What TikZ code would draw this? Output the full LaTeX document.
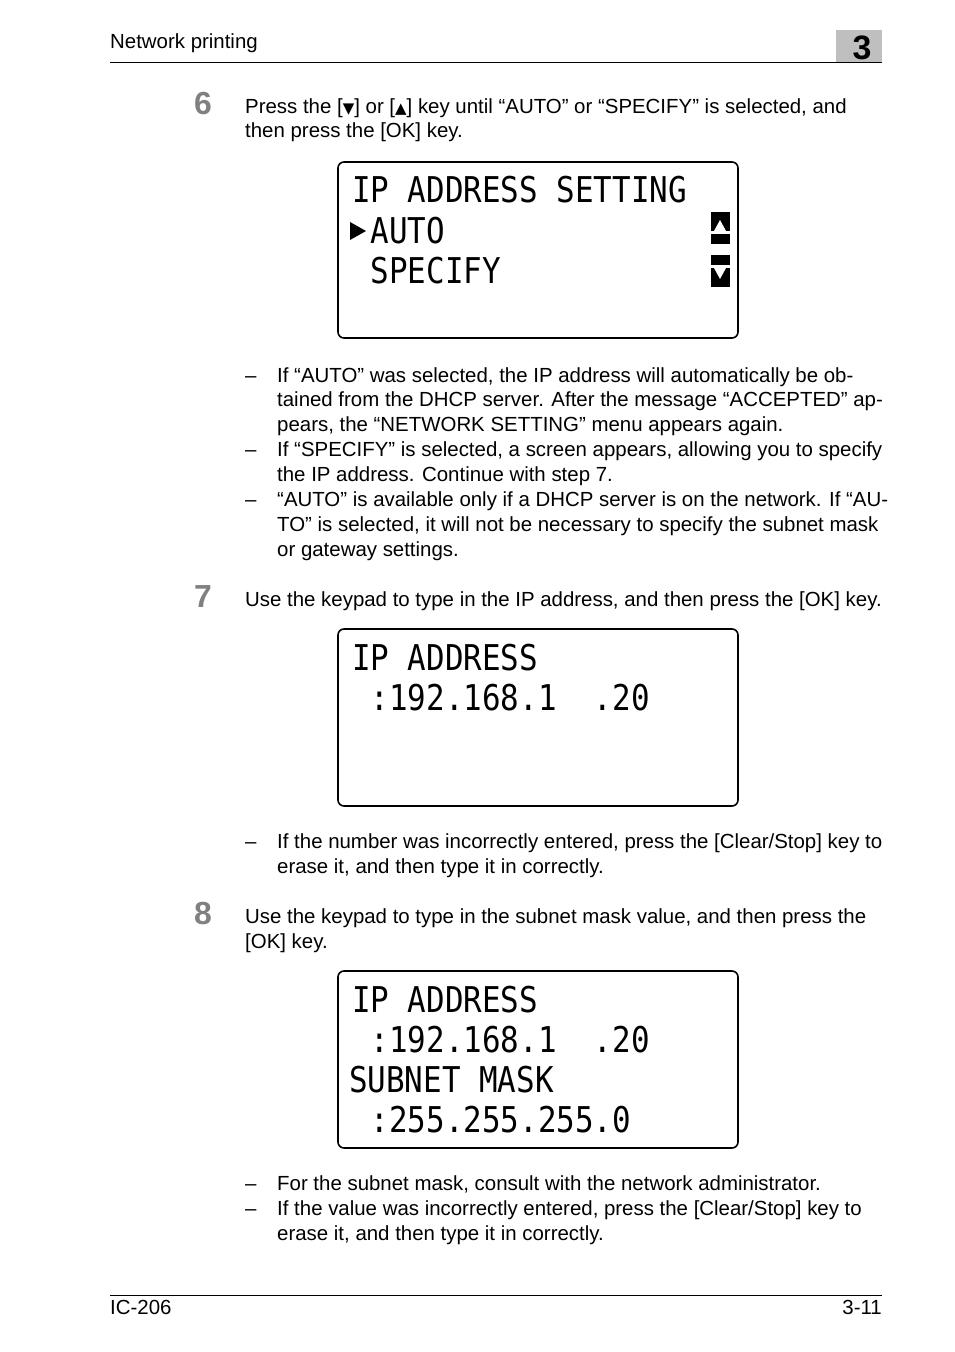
\documentclass[tikz,border=0pt]{standalone}
\usepackage{fontspec}
\setmainfont{Liberation Sans}
\newfontfamily\lcdfont{DejaVu Sans Mono}
\newfontfamily\symfont{DejaVu Sans}
\tikzset{
  body/.style={anchor=west,inner sep=0pt,text height=14bp,text depth=4bp,font=\fontsize{20.5}{24}\selectfont},
  stepnum/.style={anchor=west,inner sep=0pt,text=black!50,font=\fontsize{32}{32}\selectfont\bfseries},
  lcdbox/.style={draw,line width=1.6pt,rounded corners=6pt},
  lcd/.style={anchor=west,inner sep=0pt,yscale=1.15,font=\lcdfont\fontsize{31}{31}\selectfont},
}
\newcommand{\tri}[1]{{\symfont\fontsize{15}{15}\selectfont #1}}
\begin{document}
\begin{tikzpicture}[x=1bp,y=-1bp]
\useasboundingbox (0,0) rectangle (954,1352);
% header
\node[body] (head) at (110,44) {Network printing};
\fill[black!25] (836,30) rectangle (882,62);
\node[anchor=center,font=\fontsize{34}{34}\selectfont\bfseries] (chap) at (862,48) {3};
\draw[line width=0.6pt] (110,62) -- (882,62);
% step 6
\node[stepnum] (s6) at (194,104) {6};
\node[body] (t6a) at (245,109) {Press the [\tri{▼}] or [\tri{▲}] key until “AUTO” or “SPECIFY” is selected, and};
\node[body] (t6b) at (245,133) {then press the [OK] key.};
\draw[lcdbox] (338,162) rectangle (738,338);
\node[lcd] (l1a) at (352,190) {IP~ADDRESS~SETTING};
\fill (350,222) -- (366,231) -- (350,240) -- cycle;
\node[lcd] (l1b) at (352,231) {~AUTO};
\node[lcd] (l1c) at (352,271) {~SPECIFY};
% scroll marks
\fill (711,212) rectangle (730,231);
\fill[white] (720,220) -- (726,231) -- (714,231) -- cycle;
\fill (711,234) rectangle (730,244);
\fill (711,255) rectangle (730,265);
\fill (711,268) rectangle (730,287);
\fill[white] (714,268) -- (726,268) -- (720,279) -- cycle;
\node[body] (d1) at (245,377) {–};
\node[body] (b1a) at (277,377) {If “AUTO” was selected, the IP address will automatically be ob-};
\node[body] (b1b) at (277,401) {tained from the DHCP server. After the message “ACCEPTED” ap-};
\node[body] (b1c) at (277,426) {pears, the “NETWORK SETTING” menu appears again.};
\node[body] (d2) at (245,451) {–};
\node[body] (b2a) at (277,451) {If “SPECIFY” is selected, a screen appears, allowing you to specify};
\node[body] (b2b) at (277,476) {the IP address. Continue with step 7.};
\node[body] (d3) at (245,501) {–};
\node[body] (b3a) at (277,501) {“AUTO” is available only if a DHCP server is on the network. If “AU-};
\node[body] (b3b) at (277,526) {TO” is selected, it will not be necessary to specify the subnet mask};
\node[body] (b3c) at (277,551) {or gateway settings.};
% step 7
\node[stepnum] (s7) at (194,597) {7};
\node[body] (t7) at (245,601) {Use the keypad to type in the IP address, and then press the [OK] key.};
\draw[lcdbox] (338,629) rectangle (738,806);
\node[lcd] (l2a) at (352,658) {IP~ADDRESS};
\node[lcd] (l2b) at (352,698) {~:192.168.1~~.20};
\node[body] (d4) at (245,843) {–};
\node[body] (b4a) at (277,843) {If the number was incorrectly entered, press the [Clear/Stop] key to};
\node[body] (b4b) at (277,868) {erase it, and then type it in correctly.};
% step 8
\node[stepnum] (s8) at (194,914) {8};
\node[body] (t8a) at (245,918) {Use the keypad to type in the subnet mask value, and then press the};
\node[body] (t8b) at (245,943) {[OK] key.};
\draw[lcdbox] (338,971) rectangle (738,1148);
\node[lcd] (l3a) at (352,1000) {IP~ADDRESS};
\node[lcd] (l3b) at (352,1040) {~:192.168.1~~.20};
\node[lcd] (l3c) at (349,1080) {SUBNET~MASK};
\node[lcd] (l3d) at (352,1120) {~:255.255.255.0};
\node[body] (d5) at (245,1185) {–};
\node[body] (b5) at (277,1185) {For the subnet mask, consult with the network administrator.};
\node[body] (d6) at (245,1210) {–};
\node[body] (b6a) at (277,1210) {If the value was incorrectly entered, press the [Clear/Stop] key to};
\node[body] (b6b) at (277,1235) {erase it, and then type it in correctly.};
% footer
\draw[line width=0.6pt] (110,1295) -- (882,1295);
\node[body] (foot) at (110,1309) {IC-206};
\node[body,anchor=east] (page) at (882,1309) {3-11};
\end{tikzpicture}
\end{document}
